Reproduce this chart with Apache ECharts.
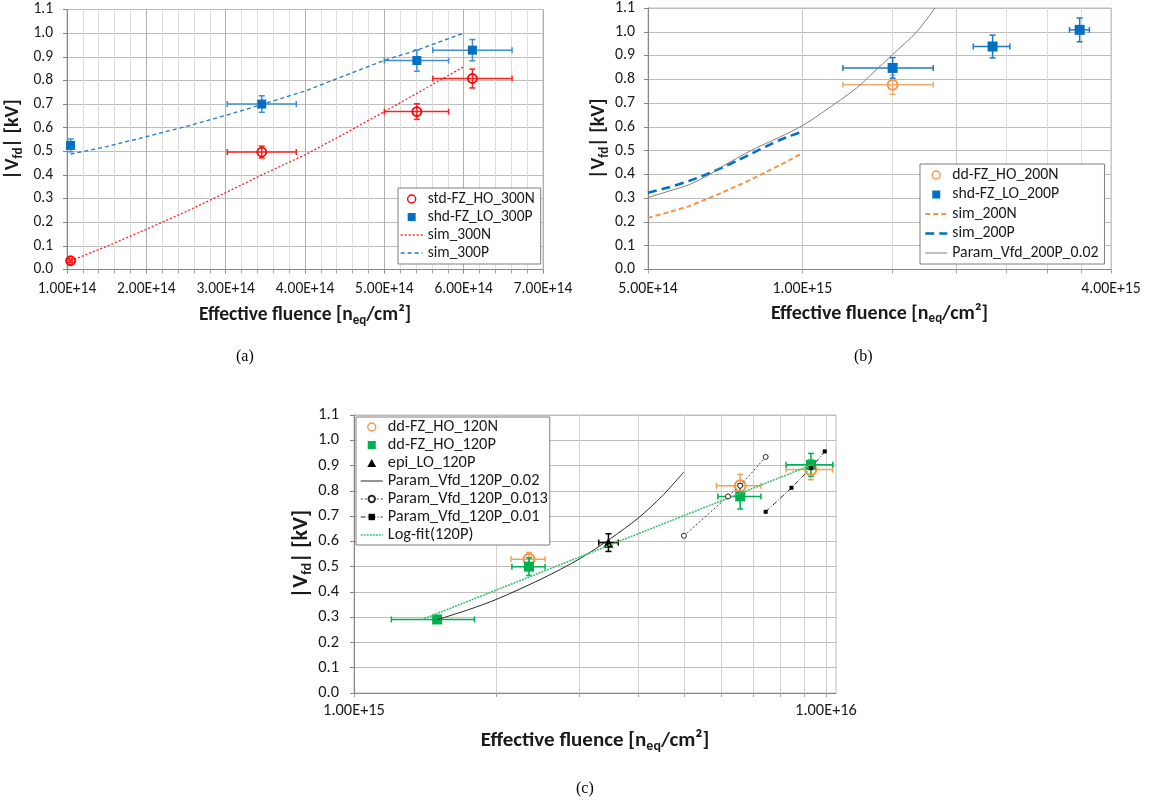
<!DOCTYPE html>
<html><head><meta charset="utf-8">
<script src="https://cdn.jsdelivr.net/npm/echarts@6/dist/echarts.min.js"></script>
<style>html,body{margin:0;padding:0;background:#fff}#c{width:1151px;height:805px}</style>
</head><body><div id="c"></div>
<script>
// ---------- Chart (a) data: [fluence, Vfd, xLow, xHigh, yErr] ----------
const A_STD_300N = [
  [1.045e14, 0.037, 1.025e14, 1.065e14, 0.008],
  [3.455e14, 0.497, 3.02e14, 3.89e14, 0.025],
  [5.41e14, 0.668, 5.0e14, 5.81e14, 0.033],
  [6.11e14, 0.808, 5.61e14, 6.61e14, 0.040]
];
const A_SHD_300P = [
  [1.045e14, 0.525, 1.045e14, 1.045e14, 0.027],
  [3.455e14, 0.700, 3.02e14, 3.89e14, 0.035],
  [5.41e14, 0.884, 5.0e14, 5.81e14, 0.045],
  [6.11e14, 0.928, 5.61e14, 6.61e14, 0.045]
];
const A_SIM_300N = [[1.045e14,0.037],[1.5e14,0.098],[2e14,0.17],[2.5e14,0.245],[3e14,0.325],[3.455e14,0.40],[4e14,0.485],[4.5e14,0.575],[5e14,0.668],[5.5e14,0.762],[6e14,0.858]];
const A_SIM_300P = [[1.045e14,0.488],[1.5e14,0.52],[2e14,0.562],[2.5e14,0.605],[3e14,0.652],[3.455e14,0.698],[4e14,0.755],[4.5e14,0.82],[5e14,0.885],[5.41e14,0.928],[6e14,1.0]];
const A_X_TICKS = [1e14, 7e14, 1e14]; // min, max, step

// ---------- Chart (b) data ----------
const B_DD_200N = [[1.5e15, 0.777, 1.2e15, 1.8e15, 0.04]];
const B_SHD_200P = [
  [1.5e15, 0.848, 1.2e15, 1.8e15, 0.043],
  [2.35e15, 0.938, 2.155e15, 2.54e15, 0.048],
  [3.475e15, 1.008, 3.32e15, 3.63e15, 0.05]
];
const B_SIM_200N = [[5e14,0.217],[5.5e14,0.242],[6e14,0.266],[6.5e14,0.296],[7e14,0.325],[7.5e14,0.354],[8e14,0.382],[8.5e14,0.41],[9e14,0.437],[9.5e14,0.463],[1e15,0.49]];
const B_SIM_200P = [[5e14,0.323],[5.5e14,0.346],[6e14,0.372],[6.5e14,0.40],[7e14,0.43],[7.5e14,0.46],[8e14,0.49],[8.5e14,0.518],[9e14,0.543],[9.5e14,0.563],[1e15,0.58]];
const B_PARAM_002 = [[5e14,0.303],[5.5e14,0.33],[6e14,0.356],[6.6e14,0.40],[7e14,0.435],[8e14,0.504],[9e14,0.555],[1e15,0.605],[1.1e15,0.664],[1.277e15,0.764],[1.4e15,0.844],[1.5e15,0.904],[1.672e15,1.0],[1.815e15,1.1]];
const B_GRID_X = [5e14, 1e15, 1.5e15, 2e15, 2.5e15, 3e15, 3.5e15, 4e15];
const B_LABEL_X = [5e14, 1e15, 4e15];

// ---------- Chart (c) data ----------
const C_DD_120N = [
  [2.348e15, 0.529, 2.152e15, 2.54e15, 0.027],
  [6.58e15, 0.82, 5.86e15, 7.28e15, 0.045],
  [9.29e15, 0.884, 8.23e15, 1.032e16, 0.04]
];
const C_DD_120P = [
  [1.5e15, 0.291, 1.2e15, 1.8e15, 0.01],
  [2.348e15, 0.50, 2.16e15, 2.54e15, 0.035],
  [6.58e15, 0.778, 5.9e15, 7.28e15, 0.05],
  [9.29e15, 0.903, 8.23e15, 1.034e16, 0.045]
];
const C_EPI_120P = [[3.46e15, 0.595, 3.3e15, 3.63e15, 0.035]];
const C_PARAM_002 = [[1.5e15,0.29],[1.75e15,0.33],[2e15,0.37],[2.5e15,0.452],[3e15,0.53],[3.5e15,0.612],[4e15,0.692],[4.5e15,0.78],[5e15,0.875]];
const C_PARAM_0013 = [[5e15,0.622],[6.2e15,0.778],[6.58e15,0.82],[7.45e15,0.934]];
const C_PARAM_001 = [[7.45e15,0.717],[8.45e15,0.812],[9.29e15,0.89],[9.94e15,0.956]];
const C_LOGFIT = [[1.39e15,0.29],[9.4e15,0.905]];
const C_GRID_X = [1e15,2e15,3e15,4e15,5e15,6e15,7e15,8e15,9e15,1e16];
const C_LABEL_X = [1e15, 1e16];

const Y_RANGE = [0, 1.1, 0.1];

// ---------- helpers ----------
const FONT = 'Carlito, Lato, "Liberation Sans", sans-serif';
const expFmt = v => Number(v).toExponential(2).toUpperCase();
const yFmt = v => Number(v).toFixed(1);
const ICON_SQ = 'path://M0,0H10V10H0Z';
const ICON_TRI = 'path://M5,0L10,9L0,9Z';

function errorBars(color, lw) {
  return function (params, api) {
    const x = api.value(0), y = api.value(1), xl = api.value(2), xh = api.value(3), ye = api.value(4);
    const st = {stroke: color, lineWidth: lw, fill: null};
    const cap = 3;
    const ch = [];
    if (xh > xl) {
      const l = api.coord([xl, y]), r = api.coord([xh, y]);
      ch.push({type:'line', shape:{x1:l[0],y1:l[1],x2:r[0],y2:r[1]}, style:st});
      ch.push({type:'line', shape:{x1:l[0],y1:l[1]-cap,x2:l[0],y2:l[1]+cap}, style:st});
      ch.push({type:'line', shape:{x1:r[0],y1:r[1]-cap,x2:r[0],y2:r[1]+cap}, style:st});
    }
    if (ye > 0) {
      const t = api.coord([x, y + ye]), b = api.coord([x, y - ye]);
      ch.push({type:'line', shape:{x1:t[0],y1:t[1],x2:b[0],y2:b[1]}, style:st});
      ch.push({type:'line', shape:{x1:t[0]-cap,y1:t[1],x2:t[0]+cap,y2:t[1]}, style:st});
      ch.push({type:'line', shape:{x1:b[0]-cap,y1:b[1],x2:b[0]+cap,y2:b[1]}, style:st});
    }
    return {type:'group', children: ch};
  };
}
function errSeries(idx, data, color) {
  return {type:'custom', xAxisIndex:idx, yAxisIndex:idx, data:data, renderItem:errorBars(color, 1.5),
    encode:{x:0, y:1}, z:2, silent:true, animation:false};
}
function pts(arr) { return arr.map(r => [r[0], r[1]]); }
function lineSeries(idx, name, data, color, width, dash, extra) {
  return Object.assign({type:'line', name:name, xAxisIndex:idx, yAxisIndex:idx, data:data, symbol:'none',
    lineStyle:{color:color, width:width, type:dash}, itemStyle:{color:color}, z:3, smooth:false, animation:false}, extra || {});
}
function scatterSeries(idx, name, data, symbol, size, fill, border, bw) {
  return {type:'scatter', name:name, xAxisIndex:idx, yAxisIndex:idx, data:pts(data), symbol:symbol, symbolSize:size,
    itemStyle:{color:fill, borderColor:border, borderWidth:bw, opacity:1}, z:4, animation:false};
}
// legend entries
const legMark = (name, icon) => icon ? {name:name, icon:icon} : {name:name, itemStyle:{borderWidth:1.4}};
const legLine = (name, w) => ({name:name, itemStyle:{opacity:0}, lineStyle:{width:w}});
const legLineSym = (name, w) => ({name:name, lineStyle:{width:w}});

const richName = (size, sub) => ({
  a:{fontFamily:FONT, fontSize:size, fontWeight:'bold', color:'#1a1a1a', lineHeight:size+4},
  s:{fontFamily:FONT, fontSize:sub, fontWeight:'bold', color:'#1a1a1a', lineHeight:sub, verticalAlign:'bottom'}
});
const X_NAME = '{a|Effective fluence [n}{s|eq}{a|/cm\u00b2]}';
const Y_NAME = '{a||V}{s|fd}{a|| [kV]}';

function yAxis(idx, gap, fs, nfs, margin) {
  return {gridIndex:idx, type:'value', min:Y_RANGE[0], max:Y_RANGE[1], interval:Y_RANGE[2],
    axisLine:{show:true, lineStyle:{color:'#868686'}}, axisTick:{show:true, length:4, lineStyle:{color:'#868686'}},
    axisLabel:{formatter:yFmt, fontFamily:FONT, fontSize:fs, color:'#1a1a1a', margin:margin},
    splitLine:{show:true, lineStyle:{color:'#bdbdbd'}},
    name:Y_NAME, nameLocation:'middle', nameGap:gap, nameRotate:90, nameTextStyle:{rich:richName(nfs, Math.round(nfs*0.65))}};
}
function legendBox(data, left, top, gap, fs, pad) {
  return {data:data, left:left, top:top, orient:'vertical', itemWidth:22, itemHeight:8, itemGap:gap, padding:pad,
    borderColor:'#7f7f7f', borderWidth:1, backgroundColor:'#fff', borderRadius:0,
    textStyle:{fontFamily:FONT, fontSize:fs, color:'#1a1a1a'}, z:10, selectedMode:false};
}

const option = {
  animation:false,
  backgroundColor:'#fff',
  title:[
    {text:'(a)', left:231, top:344, textStyle:{fontFamily:'Liberation Serif', fontSize:16, fontWeight:'normal', color:'#000'}},
    {text:'(b)', left:849, top:344, textStyle:{fontFamily:'Liberation Serif', fontSize:16, fontWeight:'normal', color:'#000'}},
    {text:'(c)', left:571, top:776, textStyle:{fontFamily:'Liberation Serif', fontSize:16, fontWeight:'normal', color:'#000'}}
  ],
  grid:[
    {left:67, top:9.5, width:476, height:260, show:true, borderColor:'#bdbdbd', borderWidth:1, backgroundColor:'transparent'},
    {left:648, top:5.5, width:463, height:264, show:true, borderColor:'#bdbdbd', borderWidth:1, backgroundColor:'transparent'},
    {left:354, top:415, width:482, height:278, show:true, borderColor:'#bdbdbd', borderWidth:1, backgroundColor:'transparent'}
  ],
  xAxis:[
    {gridIndex:0, type:'value', min:A_X_TICKS[0], max:A_X_TICKS[1], interval:A_X_TICKS[2],
      axisLine:{show:true, lineStyle:{color:'#868686'}}, axisTick:{show:true, length:4, lineStyle:{color:'#868686'}},
      minorTick:{show:true, splitNumber:5, length:4, lineStyle:{color:'#a0a0a0'}},
      splitLine:{show:true, lineStyle:{color:'#b0b0b0'}}, minorSplitLine:{show:true, lineStyle:{color:'#dedede'}},
      axisLabel:{formatter:expFmt, fontFamily:FONT, fontSize:15.5, color:'#1a1a1a', margin:12},
      name:X_NAME, nameLocation:'middle', nameGap:34, nameTextStyle:{rich:richName(19.5, 13)}},
    {gridIndex:1, type:'log', logBase:10, min:B_GRID_X[0], max:B_GRID_X[B_GRID_X.length-1],
      axisLine:{show:true, lineStyle:{color:'#868686'}},
      axisTick:{show:true, length:4, customValues:B_GRID_X, lineStyle:{color:'#a0a0a0'}},
      minorTick:{show:false}, minorSplitLine:{show:false},
      splitLine:{show:true, lineStyle:{color:['#c8c8c8','#c8c8c8','#dcdcdc','#c8c8c8','#dcdcdc','#dcdcdc','#dcdcdc','#c8c8c8']}},
      axisLabel:{customValues:B_LABEL_X, formatter:expFmt, fontFamily:FONT, fontSize:15.8, color:'#1a1a1a', margin:12},
      name:X_NAME, nameLocation:'middle', nameGap:32, nameTextStyle:{rich:richName(20, 13)}},
    {gridIndex:2, type:'log', logBase:10, min:C_GRID_X[0], max:1.05e16,
      axisLine:{show:true, lineStyle:{color:'#868686'}},
      axisTick:{show:true, length:4, customValues:C_GRID_X, lineStyle:{color:'#a0a0a0'}},
      minorTick:{show:false}, minorSplitLine:{show:false},
      splitLine:{show:true, lineStyle:{color:'#d0d0d0'}},
      axisLabel:{customValues:C_LABEL_X, formatter:expFmt, fontFamily:FONT, fontSize:16.4, color:'#1a1a1a', margin:10},
      name:X_NAME, nameLocation:'middle', nameGap:35, nameTextStyle:{rich:richName(21, 14)}}
  ],
  yAxis:[yAxis(0, 42, 15.5, 20, 14), yAxis(1, 37, 15.8, 20, 13), yAxis(2, 37, 16.4, 22, 15)],
  legend:[
    legendBox([legMark('std-FZ_HO_300N'), legMark('shd-FZ_LO_300P', ICON_SQ), legLine('sim_300N', 1.3), legLine('sim_300P', 1.3)],
      398, 188, 2, 15.5, [3,6,3,2]),
    legendBox([legMark('dd-FZ_HO_200N'), legMark('shd-FZ_LO_200P', ICON_SQ), legLine('sim_200N', 2), legLine('sim_200P', 2.5), legLine('Param_Vfd_200P_0.02', 1)],
      920, 164, 3.5, 15.8, [3,6,3,4]),
    legendBox([legMark('dd-FZ_HO_120N'), legMark('dd-FZ_HO_120P', ICON_SQ), legMark('epi_LO_120P', ICON_TRI),
      legLine('Param_Vfd_120P_0.02', 1), legLineSym('Param_Vfd_120P_0.013', 1), legLineSym('Param_Vfd_120P_0.01', 1), legLine('Log-fit(120P)', 1.5)],
      356, 417, 2, 16.4, [2,2,2,4])
  ],
  series:[
    // (a)
    errSeries(0, A_STD_300N, '#ff2020'),
    errSeries(0, A_SHD_300P, '#3f8fd2'),
    lineSeries(0, 'sim_300N', A_SIM_300N, '#ff2020', 1.3, [2,2]),
    lineSeries(0, 'sim_300P', A_SIM_300P, '#1f78c8', 1.3, [4,3]),
    scatterSeries(0, 'std-FZ_HO_300N', A_STD_300N, 'circle', 9, 'rgba(255,255,255,0)', '#ff0000', 1.8),
    scatterSeries(0, 'shd-FZ_LO_300P', A_SHD_300P, 'rect', 9, '#0070c0', '#0070c0', 0),
    // (b)
    errSeries(1, B_DD_200N, '#f7aa70'),
    errSeries(1, B_SHD_200P, '#1f78c8'),
    lineSeries(1, 'sim_200N', B_SIM_200N, '#f79646', 2, [5,3], {smooth:0.2}),
    lineSeries(1, 'sim_200P', B_SIM_200P, '#0070c0', 2.5, [9,5], {smooth:0.2}),
    lineSeries(1, 'Param_Vfd_200P_0.02', B_PARAM_002, '#7f7f7f', 1, 'solid', {smooth:0.3}),
    scatterSeries(1, 'dd-FZ_HO_200N', B_DD_200N, 'circle', 10, 'rgba(255,255,255,0)', '#f79646', 1.8),
    scatterSeries(1, 'shd-FZ_LO_200P', B_SHD_200P, 'rect', 10, '#0070c0', '#0070c0', 0),
    // (c)
    errSeries(2, C_DD_120N, '#f5a05a'),
    errSeries(2, C_DD_120P, '#00b050'),
    errSeries(2, C_EPI_120P, '#000000'),
    scatterSeries(2, 'dd-FZ_HO_120N', C_DD_120N, 'circle', 11, 'rgba(255,255,255,0)', '#f79646', 2),
    scatterSeries(2, 'dd-FZ_HO_120P', C_DD_120P, 'rect', 10, '#00b050', '#00b050', 0),
    scatterSeries(2, 'epi_LO_120P', C_EPI_120P, 'triangle', 10, '#000000', '#000000', 0),
    lineSeries(2, 'Param_Vfd_120P_0.02', C_PARAM_002, '#262626', 1, 'solid', {smooth:0.3, z:5}),
    lineSeries(2, 'Param_Vfd_120P_0.013', C_PARAM_0013, '#404040', 1, [2,2],
      {symbol:'circle', symbolSize:5, showSymbol:true, itemStyle:{color:'#ffffff', borderColor:'#262626', borderWidth:1}, z:5}),
    lineSeries(2, 'Param_Vfd_120P_0.01', C_PARAM_001, '#262626', 1, [5,2,1,2],
      {symbol:'rect', symbolSize:4, showSymbol:true, itemStyle:{color:'#000000'}, z:5}),
    lineSeries(2, 'Log-fit(120P)', C_LOGFIT, '#3cc46e', 1.6, [2,1], {z:5})
  ]
};
const chart = echarts.init(document.getElementById('c'));
chart.setOption(option);
</script></body></html>
